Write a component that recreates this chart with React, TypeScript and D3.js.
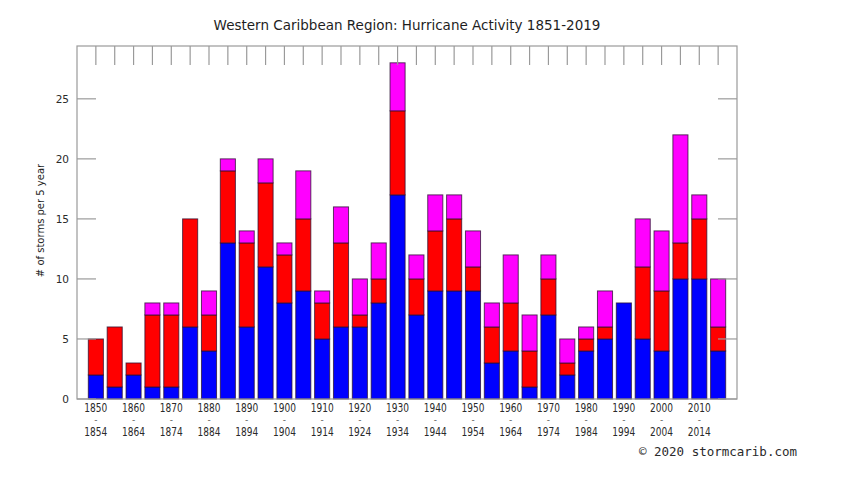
import { useEffect, useRef } from 'react';
import * as d3 from 'd3';

// ── Data (5-year periods, stacked counts) ──

const PERIOD_START = [
  1850, 1855, 1860, 1865, 1870, 1875, 1880, 1885, 1890, 1895, 1900, 1905,
  1910, 1915, 1920, 1925, 1930, 1935, 1940, 1945, 1950, 1955, 1960, 1965,
  1970, 1975, 1980, 1985, 1990, 1995, 2000, 2005, 2010, 2015,
];

const TROPICAL_STORMS = [
  2, 1, 2, 1, 1, 6, 4, 13, 6, 11, 8, 9, 5, 6, 6, 8, 17, 7, 9, 9, 9, 3, 4, 1,
  7, 2, 4, 5, 8, 5, 4, 10, 10, 4,
];

const HURRICANES = [
  3, 5, 1, 6, 6, 9, 3, 6, 7, 7, 4, 6, 3, 7, 1, 2, 7, 3, 5, 6, 2, 3, 4, 3,
  3, 1, 1, 1, 0, 6, 5, 3, 5, 2,
];

const MAJOR_HURRICANES = [
  0, 0, 0, 1, 1, 0, 2, 1, 1, 2, 1, 4, 1, 3, 3, 3, 4, 2, 3, 2, 3, 2, 4, 3,
  2, 2, 1, 3, 0, 4, 5, 9, 2, 4,
];

const Y_TICKS = [0, 5, 10, 15, 20, 25];

const SERIES_KEYS = ['ts', 'hu', 'mh'] as const;
const SERIES_COLORS: Record<string, string> = {
  ts: '#0000ff',
  hu: '#ff0000',
  mh: '#ff00ff',
};

// ── Layout ──

const W = 848;
const H = 491;
const M = { left: 77, right: 737, top: 46, bottom: 399 };
const FRAME = '#9a9a9a';
const TEXT = '#2a2a2a';

export default function App() {
  const svgRef = useRef<SVGSVGElement>(null);

  useEffect(() => {
    const svgEl = svgRef.current;
    if (!svgEl) return;
    const svg = d3.select(svgEl);
    svg.selectAll('*').remove();

    const rows = PERIOD_START.map((y, i) => ({
      i,
      ts: TROPICAL_STORMS[i],
      hu: HURRICANES[i],
      mh: MAJOR_HURRICANES[i],
    }));
    const maxTotal = d3.max(rows, (d) => d.ts + d.hu + d.mh) ?? 28;

    const x = d3.scaleLinear().domain([-1, rows.length]).range([M.left, M.right]);
    const y = d3
      .scaleLinear()
      .domain([0, maxTotal * 1.05])
      .range([M.bottom, M.top]);
    const bw = x(0.8) - x(0);

    const stack = d3.stack<(typeof rows)[number]>().keys(SERIES_KEYS as unknown as string[]);
    const layers = stack(rows);

    // Bars
    const layerG = svg
      .append('g')
      .selectAll('g')
      .data(layers)
      .enter()
      .append('g')
      .attr('fill', (d) => SERIES_COLORS[d.key]);
    layerG
      .selectAll('rect')
      .data((d) => d.filter((s) => s[1] - s[0] > 0))
      .enter()
      .append('rect')
      .attr('x', (d) => x(d.data.i) - bw / 2)
      .attr('width', bw)
      .attr('y', (d) => y(d[1]))
      .attr('height', (d) => y(d[0]) - y(d[1]))
      .attr('stroke', '#2a1030')
      .attr('stroke-opacity', 0.75)
      .attr('stroke-width', 1);

    // Frame
    svg
      .append('rect')
      .attr('x', M.left)
      .attr('y', M.top)
      .attr('width', M.right - M.left)
      .attr('height', M.bottom - M.top)
      .attr('fill', 'none')
      .attr('stroke', FRAME)
      .attr('stroke-width', 1.2);

    // Top ticks at every bar position
    svg
      .append('g')
      .selectAll('line')
      .data(rows)
      .enter()
      .append('line')
      .attr('x1', (d) => x(d.i))
      .attr('x2', (d) => x(d.i))
      .attr('y1', M.top)
      .attr('y2', M.top + 19)
      .attr('stroke', FRAME)
      .attr('stroke-width', 1.2);

    // Y ticks both sides
    const yt = svg.append('g');
    yt.selectAll('line.l')
      .data(Y_TICKS)
      .enter()
      .append('line')
      .attr('class', 'l')
      .attr('x1', M.left)
      .attr('x2', M.left + 19)
      .attr('y1', (d) => y(d))
      .attr('y2', (d) => y(d))
      .attr('stroke', FRAME)
      .attr('stroke-width', 1.2);
    yt.selectAll('line.r')
      .data(Y_TICKS)
      .enter()
      .append('line')
      .attr('class', 'r')
      .attr('x1', M.right - 19)
      .attr('x2', M.right)
      .attr('y1', (d) => y(d))
      .attr('y2', (d) => y(d))
      .attr('stroke', FRAME)
      .attr('stroke-width', 1.2);
    yt.selectAll('text')
      .data(Y_TICKS)
      .enter()
      .append('text')
      .attr('x', 69)
      .attr('y', (d) => y(d) + 4)
      .attr('text-anchor', 'end')
      .attr('fill', TEXT)
      .attr('font-size', '10.5px')
      .attr('font-family', 'DejaVu Sans')
      .text((d) => d);

    // X labels (every other period)
    const xl = svg
      .append('g')
      .selectAll('g')
      .data(rows.filter((d) => d.i % 2 === 0))
      .enter()
      .append('g')
      .attr('transform', (d) => `translate(${x(d.i)},0)`)
      .attr('fill', TEXT)
      .attr('font-size', '11.5px')
      .attr('font-family', 'DejaVu Sans')
      .attr('text-anchor', 'middle');
    xl.append('text')
      .attr('y', 412)
      .attr('textLength', 23)
      .attr('lengthAdjust', 'spacingAndGlyphs')
      .text((d) => String(PERIOD_START[d.i]));
    xl.append('text')
      .attr('y', 423)
      .attr('font-size', '9px')
      .attr('fill', '#555')
      .text('-');
    xl.append('text')
      .attr('y', 436)
      .attr('textLength', 23)
      .attr('lengthAdjust', 'spacingAndGlyphs')
      .text((d) => String(PERIOD_START[d.i] + 4));

    // Title
    svg
      .append('text')
      .attr('x', 407)
      .attr('y', 30)
      .attr('text-anchor', 'middle')
      .attr('fill', '#1e1e1e')
      .attr('font-size', '13.5px')
      .attr('font-family', 'DejaVu Sans')
      .text('Western Caribbean Region: Hurricane Activity 1851-2019');

    // Y axis title
    svg
      .append('text')
      .attr('transform', `translate(44,${(M.top + M.bottom) / 2 - 2}) rotate(-90)`)
      .attr('text-anchor', 'middle')
      .attr('fill', '#1e1e1e')
      .attr('font-size', '10px')
      .attr('font-family', 'DejaVu Sans')
      .text('# of storms per 5 year');

    // Credit
    svg
      .append('text')
      .attr('x', 797)
      .attr('y', 456)
      .attr('text-anchor', 'end')
      .attr('fill', '#2a2a2a')
      .attr('font-size', '12.5px')
      .attr('font-family', 'DejaVu Sans Mono')
      .text('© 2020 stormcarib.com');

    return () => {
      svg.selectAll('*').remove();
    };
  }, []);

  return (
    <div style={{ position: 'absolute', left: 0, top: 0, width: W, height: H, background: '#fff' }}>
      <svg ref={svgRef} width={W} height={H} style={{ display: 'block' }} />
    </div>
  );
}
